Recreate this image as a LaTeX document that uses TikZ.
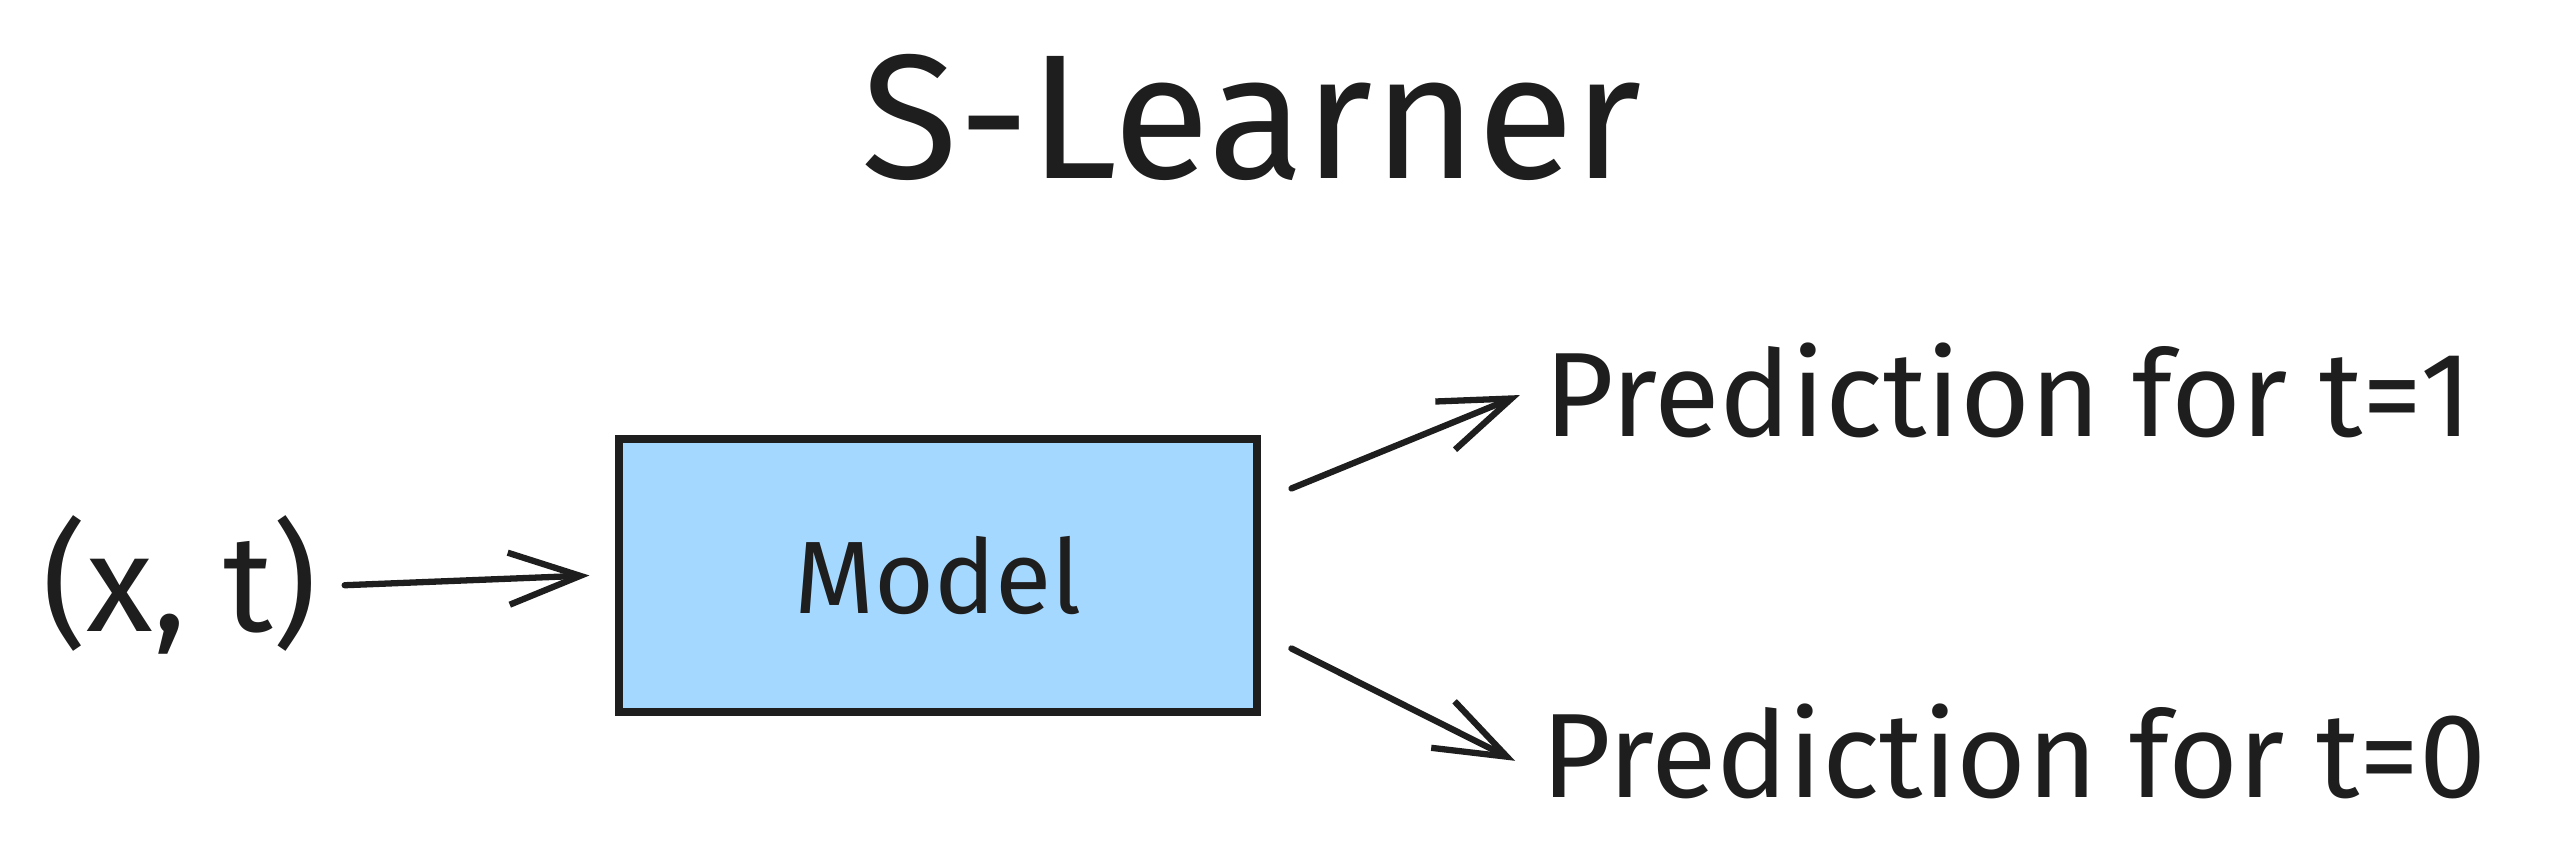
\documentclass[tikz,border=0pt]{standalone}
\usepackage{xcolor}
\usepackage{fontspec}
\setmainfont{Fira Sans}
\usepackage{tikz}
\usetikzlibrary{arrows.meta, positioning, calc}
\definecolor{inkdark}{HTML}{1E1E1E}
\definecolor{boxblue}{HTML}{A5D8FF}

\begin{document}
\begin{tikzpicture}[x=0.01cm, y=-0.01cm, inkdark,
		arr/.style={line width=1.1pt, line cap=round, -{Straight Barb[length=4.4mm, width=3.2mm, line width=1.1pt]}},
		lbl/.style={inner sep=0pt, outer sep=0pt, font=\fontsize{21}{24}\selectfont}]
			\useasboundingbox (0,0) rectangle (1568,530);
			\node[font=\fontsize{31}{34}\selectfont] (title) at (770,72) {S-Learner};
			\node[draw=inkdark, fill=boxblue, line width=1.3pt, minimum width=3.92cm,
				minimum height=1.68cm, font=\fontsize{18}{20}\selectfont] (model) at (577,354) {Model};
			\node[lbl, anchor=east, font=\fontsize{24}{26}\selectfont] (in) at (195,360) {(x, t)};
			\node[lbl, anchor=west] (pred1) at (950,240) {Prediction for t=1};
			\node[lbl, anchor=west] (pred0) at (948,462) {Prediction for t=0};
			\draw[arr] ([xshift=0.17cm]in.east) -- ([xshift=-0.16cm]model.west);
			\draw[arr] ([xshift=0.19cm]$(model.north east)!0.19!(model.south east)$) -- ([xshift=-0.15cm, yshift=-0.03cm]pred1.west);
			\draw[arr] ([xshift=0.19cm]$(model.north east)!0.76!(model.south east)$) -- ([xshift=-0.16cm, yshift=-0.06cm]pred0.west);
		\end{tikzpicture}
\end{document}
